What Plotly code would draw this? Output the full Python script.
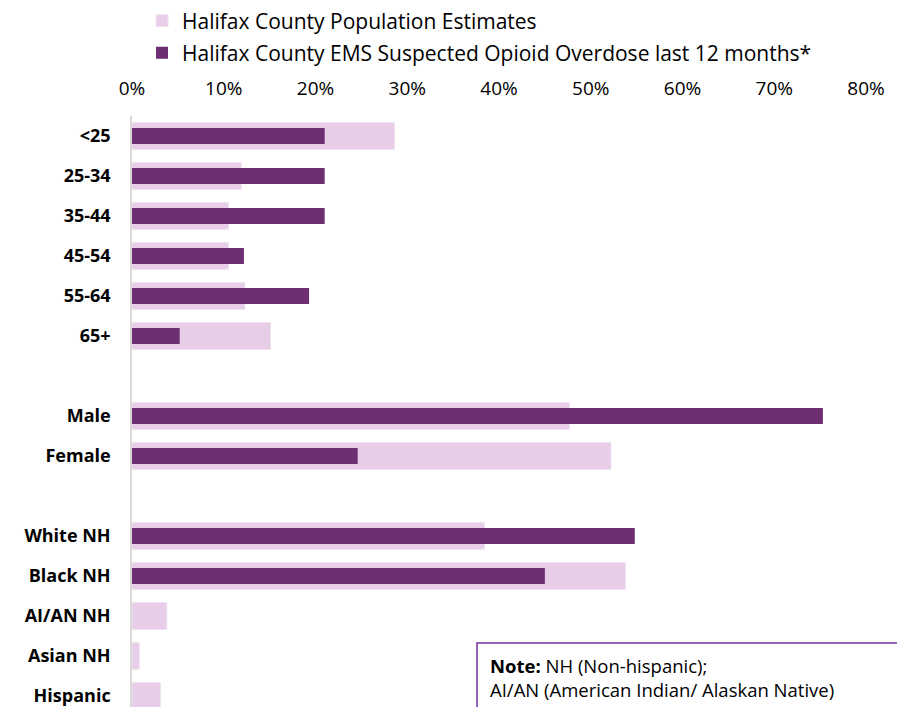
import plotly.graph_objects as go

categories = ["<25", "25-34", "35-44", "45-54", "55-64", "65+", " ",
              "Male", "Female", "  ",
              "White NH", "Black NH", "AI/AN NH", "Asian NH", "Hispanic"]
pop_est = [28.6, 11.9, 10.5, 10.5, 12.3, 15.1, None,
           47.7, 52.2, None,
           38.4, 53.8, 3.8, 0.8, 3.1]
ems_od = [21.0, 21.0, 21.0, 12.2, 19.3, 5.2, None,
          75.3, 24.6, None,
          54.8, 45.0, 0, 0, 0]
x_ticks = [0, 10, 20, 30, 40, 50, 60, 70, 80]

FONT = "Open Sans, sans-serif"
LIGHT = "#E7CDE8"
DARK = "#6D2E72"

# page offset (default body margin) compensation
OFF = 8
W, H = 905, 707
ML, MT = 132 - OFF, 116 - OFF
MR = W - (866 - OFF)
MB = 0
pw = W - ML - MR
ph = H - MT - MB


def px(xw):
    """window x pixel -> paper x"""
    return (xw - OFF - ML) / pw


def py(yw):
    """window y pixel -> paper y"""
    return (H - MB - (yw - OFF)) / ph


fig = go.Figure()
fig.add_trace(go.Bar(
    y=categories, x=pop_est, orientation="h", width=0.67,
    name="Halifax County Population Estimates",
    marker=dict(color=LIGHT, line=dict(color="#F1E2F1", width=1)),
    legend="legend",
))
fig.add_trace(go.Bar(
    y=categories, x=ems_od, orientation="h", width=0.4,
    name="Halifax County EMS Suspected Opioid Overdose last 12 months*",
    marker=dict(color=DARK, line=dict(width=0)),
    legend="legend2",
))

n = len(categories)
fig.update_layout(
    width=W, height=H,
    margin=dict(l=ML, r=MR, t=MT, b=MB, autoexpand=False),
    barmode="overlay",
    plot_bgcolor="white", paper_bgcolor="white",
    font=dict(family=FONT, size=18, color="#000000"),
    xaxis=dict(side="top", range=[0, 80], tickvals=x_ticks,
               ticktext=[f"{v}%" for v in x_ticks],
               showgrid=False, zeroline=False, showline=False,
               ticks="", ticklabelstandoff=16,
               tickfont=dict(size=19, family=FONT)),
    yaxis=dict(categoryorder="array", categoryarray=categories,
               range=[n - 1 + 0.475, -0.5],
               showgrid=False, zeroline=False,
               showline=True, linecolor="#D9D9D9", linewidth=1.5,
               ticks="", ticklabelstandoff=16,
               tickfont=dict(size=18, family=FONT, weight="bold")),
    legend=dict(x=px(142), y=py(21), xanchor="left", yanchor="middle",
                font=dict(size=21, family=FONT), bgcolor="rgba(0,0,0,0)"),
    legend2=dict(x=px(142), y=py(53), xanchor="left", yanchor="middle",
                 font=dict(size=21, family=FONT), bgcolor="rgba(0,0,0,0)"),
    showlegend=True,
)

fig.add_shape(type="rect", xref="paper", yref="paper",
              x0=px(477), x1=px(904), y0=py(730), y1=py(643),
              line=dict(color="#7030A0", width=1.5), fillcolor="white",
              layer="above")
fig.add_annotation(xref="paper", yref="paper", x=px(488), y=py(665),
                   xanchor="left", yanchor="middle", showarrow=False,
                   text="<b>Note:</b> NH (Non-hispanic);",
                   font=dict(size=18.5, family=FONT))
fig.add_annotation(xref="paper", yref="paper", x=px(488), y=py(689),
                   xanchor="left", yanchor="middle", showarrow=False,
                   text="AI/AN (American Indian/ Alaskan Native)",
                   font=dict(size=18.5, family=FONT))

fig.write_html("out.html")
